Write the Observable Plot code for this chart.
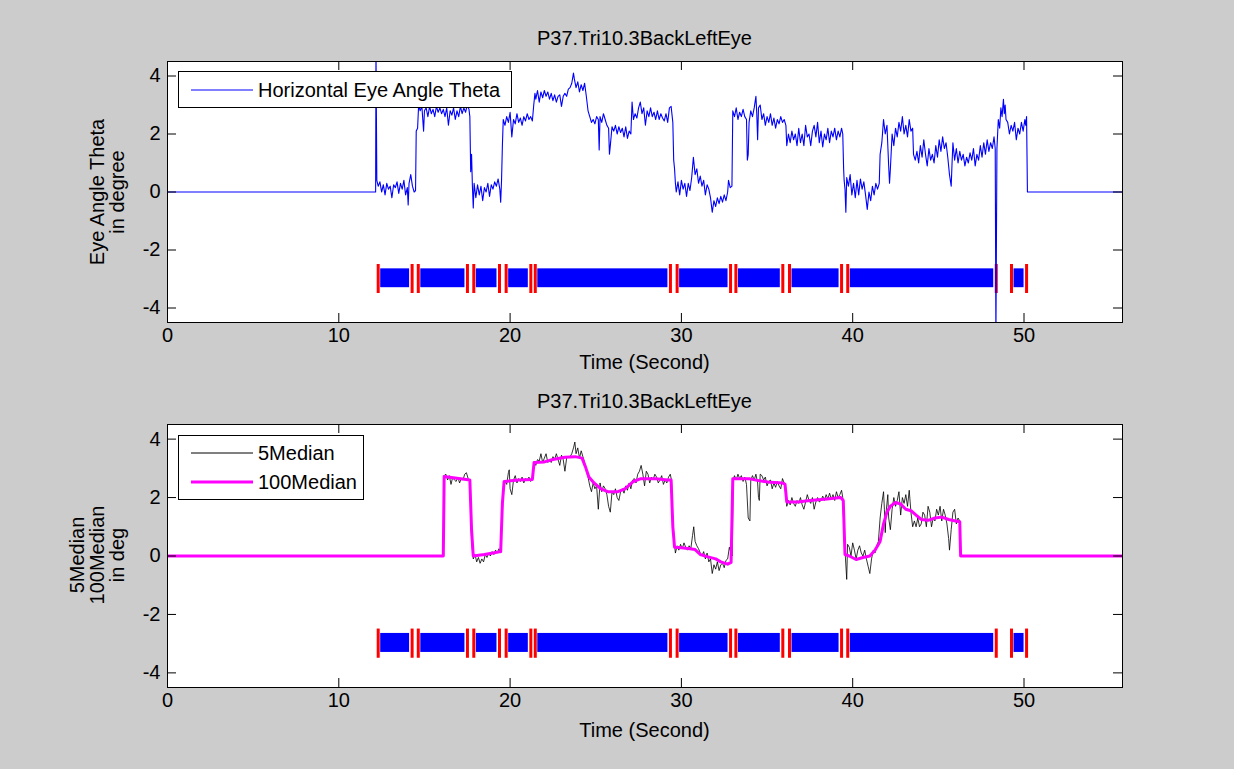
<!DOCTYPE html>
<html><head><meta charset="utf-8">
<script src="https://cdn.jsdelivr.net/npm/d3@7"></script>
<script src="https://cdn.jsdelivr.net/npm/@observablehq/plot@0.6"></script>
<style>
body{margin:0;background:#cccccc;}
#fig{position:relative;width:1234px;height:769px;background:#cccccc;font-family:"Liberation Sans",Arial,sans-serif;color:#000;overflow:hidden}
#fig svg{position:absolute;left:0}
.t{position:absolute;font-size:20px;white-space:nowrap;transform:translate(-50%,-50%);line-height:1}
.yl{position:absolute;font-size:20px;white-space:nowrap;transform:translate(-50%,-50%) rotate(-90deg);line-height:1}
.legend{position:absolute;background:#fff;border:1px solid #000;box-sizing:border-box}
.legend svg{position:absolute;left:0;top:0}
.lt{position:absolute;font-size:20px;white-space:nowrap;transform:translateY(-50%);line-height:1}
</style></head><body><div id="fig"></div>
<script>
// ---------- data ----------
const plotTitle = "P37.Tri10.3BackLeftEye";
const xLabel = "Time (Second)";
const xTicks = [0, 10, 20, 30, 40, 50];
const yTicks = [-4, -2, 0, 2, 4];
const xMax = 55.75;
const yDomain = [-4.5, 4.5];

// Horizontal Eye Angle Theta [time s, degree]
const horizontalTheta = [
[0,0],[12.15,0],[12.17,5],[12.22,0.4],[12.3,0.2],[12.4,0.35],[12.5,0.0],[12.6,0.25],[12.7,-0.1],[12.8,0.3],[12.9,0.1],[13.0,0.2],[13.1,-0.2],[13.2,0.25],[13.3,0.15],[13.4,0.35],[13.5,-0.05],[13.6,0.3],[13.7,0.1],[13.8,0.4],[13.9,-0.1],[14.0,0.15],[14.05,-0.45],[14.1,0.3],[14.2,0.6],[14.3,0.2],[14.4,0.0],[14.48,0.05],[14.52,2.1],[14.6,2.2],[14.66,3.0],[14.75,2.8],[14.85,2.95],[14.95,2.1],[15.0,2.8],[15.1,2.9],[15.2,2.6],[15.3,2.95],[15.4,2.7],[15.5,2.85],[15.6,2.6],[15.7,2.95],[15.8,2.75],[15.9,2.9],[16.0,2.7],[16.1,2.85],[16.2,2.6],[16.3,2.9],[16.4,2.3],[16.5,2.8],[16.6,2.65],[16.7,2.9],[16.8,2.5],[16.9,2.8],[17.0,2.6],[17.1,2.95],[17.2,2.7],[17.3,2.9],[17.4,2.75],[17.5,3.0],[17.6,2.85],[17.65,2.6],[17.7,0.7],[17.75,1.3],[17.8,0.2],[17.85,-0.55],[17.9,0.3],[18.0,-0.2],[18.1,0.25],[18.2,-0.1],[18.3,0.2],[18.4,-0.3],[18.5,0.15],[18.6,0.0],[18.7,0.3],[18.8,-0.15],[18.9,0.25],[19.0,0.1],[19.1,0.35],[19.2,0.2],[19.3,0.45],[19.4,0.1],[19.45,-0.35],[19.5,0.4],[19.55,1.6],[19.6,2.5],[19.7,2.3],[19.8,2.6],[19.9,2.4],[20.0,2.75],[20.1,1.9],[20.2,2.5],[20.3,2.35],[20.4,2.7],[20.5,2.4],[20.6,2.55],[20.7,2.3],[20.8,2.6],[20.9,2.45],[21.0,2.7],[21.1,2.5],[21.2,2.6],[21.3,2.45],[21.38,3.0],[21.45,3.4],[21.5,3.2],[21.6,3.5],[21.7,3.1],[21.8,3.45],[21.9,3.25],[22.0,3.5],[22.1,3.3],[22.2,3.45],[22.3,3.2],[22.4,3.4],[22.5,3.15],[22.6,3.35],[22.7,3.1],[22.8,3.3],[22.9,3.35],[23.0,2.95],[23.1,3.3],[23.2,3.4],[23.3,3.3],[23.4,3.55],[23.5,3.6],[23.6,3.75],[23.7,4.1],[23.75,3.9],[23.85,3.6],[23.95,3.8],[24.05,3.45],[24.15,3.7],[24.25,3.5],[24.35,3.75],[24.45,3.3],[24.55,2.8],[24.65,2.6],[24.75,2.4],[24.85,2.5],[24.95,2.35],[25.05,2.6],[25.15,2.5],[25.2,1.45],[25.25,2.6],[25.35,2.4],[25.45,2.7],[25.55,2.5],[25.65,2.3],[25.75,2.2],[25.8,1.3],[25.85,1.6],[25.95,2.25],[26.05,2.1],[26.15,2.3],[26.25,2.0],[26.35,2.25],[26.45,2.05],[26.55,2.2],[26.65,1.9],[26.75,2.25],[26.85,1.85],[26.95,2.1],[27.05,2.0],[27.12,3.1],[27.2,2.5],[27.3,2.7],[27.4,2.55],[27.5,2.9],[27.6,3.1],[27.7,2.7],[27.8,2.9],[27.9,2.3],[28.0,2.8],[28.1,2.6],[28.2,2.9],[28.3,2.6],[28.4,2.75],[28.5,2.5],[28.6,2.8],[28.7,2.5],[28.8,2.7],[28.9,2.55],[29.0,2.45],[29.1,2.7],[29.2,2.4],[29.3,2.9],[29.4,2.95],[29.5,2.4],[29.55,1.1],[29.6,0.8],[29.65,0.3],[29.7,0.0],[29.8,0.35],[29.9,-0.1],[30.0,0.4],[30.1,0.1],[30.2,0.3],[30.3,-0.15],[30.4,0.3],[30.5,0.05],[30.6,0.5],[30.7,1.2],[30.8,0.6],[30.9,0.8],[31.0,0.3],[31.1,0.55],[31.2,0.2],[31.3,0.4],[31.4,-0.1],[31.5,0.25],[31.6,0.1],[31.7,-0.2],[31.8,-0.7],[31.9,-0.3],[32.0,-0.5],[32.1,-0.2],[32.2,-0.4],[32.3,-0.15],[32.4,-0.35],[32.5,-0.1],[32.6,-0.3],[32.7,0.0],[32.75,0.4],[32.85,0.15],[32.95,0.2],[33.0,2.8],[33.1,2.6],[33.2,2.9],[33.3,2.5],[33.4,2.75],[33.5,2.6],[33.6,2.85],[33.7,2.6],[33.8,2.5],[33.85,1.1],[33.9,1.3],[33.95,2.4],[34.05,2.8],[34.15,2.6],[34.25,2.9],[34.35,3.3],[34.4,2.7],[34.45,1.8],[34.5,2.9],[34.6,3.0],[34.7,2.5],[34.8,2.7],[34.9,2.3],[35.0,2.6],[35.1,2.4],[35.2,2.7],[35.3,2.3],[35.4,2.55],[35.5,2.2],[35.6,2.5],[35.7,2.35],[35.8,2.6],[35.9,2.4],[36.0,2.5],[36.1,2.3],[36.15,1.6],[36.25,2.0],[36.35,1.7],[36.45,2.1],[36.55,1.8],[36.65,2.0],[36.75,1.6],[36.85,2.2],[36.95,1.7],[37.05,2.0],[37.15,1.6],[37.25,2.3],[37.35,1.9],[37.45,2.0],[37.55,1.6],[37.65,2.1],[37.75,2.3],[37.85,1.9],[37.95,2.4],[38.05,1.7],[38.15,2.1],[38.25,1.55],[38.35,2.0],[38.45,1.8],[38.55,2.2],[38.65,1.7],[38.75,2.1],[38.85,1.9],[38.95,2.2],[39.05,1.8],[39.15,2.1],[39.25,1.9],[39.35,2.2],[39.42,2.0],[39.47,0.8],[39.5,0.4],[39.55,0.1],[39.6,-0.7],[39.65,0.5],[39.75,0.2],[39.85,0.6],[39.95,-0.1],[40.05,0.3],[40.15,-0.2],[40.25,0.4],[40.35,-0.1],[40.45,0.45],[40.55,0.1],[40.65,0.35],[40.75,-0.1],[40.85,-0.6],[40.95,0.0],[41.05,-0.3],[41.15,0.2],[41.25,-0.1],[41.35,0.3],[41.45,0.1],[41.55,0.3],[41.6,1.3],[41.7,1.7],[41.8,2.5],[41.9,2.0],[42.0,2.3],[42.1,0.9],[42.15,0.3],[42.2,0.8],[42.3,2.0],[42.4,1.6],[42.5,2.2],[42.6,1.9],[42.7,2.4],[42.8,2.1],[42.9,2.6],[43.0,2.0],[43.1,2.3],[43.2,1.9],[43.3,2.5],[43.4,2.1],[43.5,2.2],[43.55,1.3],[43.65,1.1],[43.75,1.4],[43.85,1.0],[43.95,1.6],[44.05,1.2],[44.15,1.8],[44.25,1.3],[44.35,0.9],[44.45,1.5],[44.55,1.1],[44.65,1.3],[44.75,1.0],[44.85,1.6],[44.95,1.2],[45.05,1.8],[45.15,1.4],[45.25,1.9],[45.35,1.5],[45.45,1.7],[45.55,1.2],[45.65,0.6],[45.75,0.2],[45.8,1.0],[45.85,1.7],[45.95,1.1],[46.05,1.5],[46.15,1.0],[46.25,1.4],[46.35,1.1],[46.45,1.3],[46.55,0.9],[46.65,1.2],[46.75,1.0],[46.85,1.35],[46.95,1.1],[47.05,1.5],[47.15,0.9],[47.25,1.3],[47.35,1.1],[47.45,1.6],[47.55,1.2],[47.65,1.7],[47.75,1.3],[47.85,1.8],[47.95,1.4],[48.05,1.7],[48.15,1.5],[48.25,1.9],[48.32,1.5],[48.36,-5],[48.42,1.5],[48.5,2.5],[48.58,2.2],[48.65,2.9],[48.72,2.6],[48.8,3.2],[48.85,2.7],[48.9,3.0],[48.95,2.5],[49.05,2.4],[49.15,2.0],[49.25,2.3],[49.35,2.1],[49.45,2.4],[49.55,1.8],[49.65,2.2],[49.75,2.0],[49.85,2.4],[49.95,2.1],[50.05,2.5],[50.1,2.3],[50.15,2.6],[50.2,0],[55.75,0]
];

// 5Median [time s, degree]
const median5 = [
[0,0],[16.1,0],[16.15,2.75],[16.25,2.8],[16.35,2.6],[16.45,2.75],[16.55,2.45],[16.65,2.7],[16.75,2.6],[16.85,2.55],[16.95,2.7],[17.05,2.5],[17.15,2.65],[17.25,2.6],[17.35,2.8],[17.45,2.85],[17.55,2.65],[17.65,2.55],[17.75,0.5],[17.85,-0.1],[17.95,0.05],[18.05,-0.2],[18.15,-0.05],[18.25,-0.25],[18.35,-0.1],[18.45,-0.2],[18.55,0.05],[18.65,-0.05],[18.75,0.1],[18.85,0.0],[18.95,0.15],[19.05,0.05],[19.15,0.2],[19.25,0.1],[19.35,0.25],[19.45,0.1],[19.55,1.5],[19.62,2.5],[19.7,2.55],[19.8,2.45],[19.9,2.85],[19.95,2.95],[20.0,2.3],[20.1,2.1],[20.2,2.6],[20.3,2.75],[20.4,2.5],[20.5,2.65],[20.6,2.55],[20.7,2.7],[20.8,2.5],[20.9,2.65],[21.0,2.6],[21.1,2.7],[21.2,2.55],[21.3,2.65],[21.4,3.2],[21.5,3.1],[21.6,3.3],[21.7,3.25],[21.8,3.5],[21.9,3.2],[22.0,3.35],[22.1,3.5],[22.2,3.2],[22.3,3.3],[22.4,3.2],[22.5,3.4],[22.6,3.3],[22.7,3.5],[22.8,3.3],[22.9,3.1],[23.0,3.45],[23.1,3.3],[23.2,2.9],[23.3,3.35],[23.4,3.4],[23.5,3.4],[23.6,3.5],[23.7,3.7],[23.78,3.9],[23.85,3.5],[23.95,3.7],[24.05,3.35],[24.15,3.6],[24.25,3.4],[24.35,3.2],[24.45,2.9],[24.55,2.7],[24.65,2.4],[24.75,2.2],[24.85,2.5],[24.95,2.3],[25.05,2.4],[25.15,1.6],[25.25,2.5],[25.35,2.2],[25.45,2.4],[25.55,2.3],[25.65,2.1],[25.75,1.7],[25.85,1.5],[25.95,2.2],[26.05,2.1],[26.15,2.3],[26.25,2.0],[26.35,1.9],[26.45,2.2],[26.55,2.3],[26.65,2.15],[26.75,2.4],[26.85,2.25],[26.95,2.5],[27.05,2.3],[27.15,2.6],[27.25,2.65],[27.35,2.5],[27.45,2.8],[27.55,2.9],[27.65,3.1],[27.75,2.8],[27.85,2.4],[27.95,2.9],[28.05,2.8],[28.15,2.5],[28.25,2.7],[28.35,2.6],[28.45,2.8],[28.55,2.7],[28.65,2.5],[28.75,2.6],[28.85,2.75],[28.95,2.45],[29.05,2.6],[29.15,2.5],[29.25,2.7],[29.35,2.8],[29.42,2.6],[29.5,1.2],[29.58,0.5],[29.65,0.1],[29.75,0.35],[29.85,0.2],[29.95,0.4],[30.05,0.25],[30.15,0.45],[30.25,0.3],[30.35,0.2],[30.45,0.35],[30.55,0.25],[30.65,0.7],[30.72,1.0],[30.8,0.5],[30.9,0.35],[31.0,0.25],[31.1,0.1],[31.2,0.0],[31.3,0.15],[31.4,-0.1],[31.5,0.1],[31.6,-0.2],[31.7,-0.1],[31.8,-0.6],[31.9,-0.3],[32.0,-0.45],[32.1,-0.2],[32.2,-0.5],[32.3,-0.3],[32.4,-0.25],[32.5,-0.4],[32.6,-0.15],[32.7,-0.1],[32.8,0.3],[32.9,0.1],[32.97,0.0],[33.02,2.6],[33.1,2.75],[33.2,2.6],[33.3,2.8],[33.4,2.65],[33.5,2.75],[33.6,2.55],[33.7,2.7],[33.8,2.45],[33.9,1.3],[34.0,1.2],[34.05,2.6],[34.15,2.75],[34.25,2.6],[34.35,2.8],[34.45,2.5],[34.5,2.0],[34.55,1.9],[34.6,2.8],[34.7,2.75],[34.8,2.6],[34.9,2.7],[35.0,2.4],[35.1,2.55],[35.2,2.6],[35.3,2.3],[35.4,2.5],[35.5,2.35],[35.6,2.55],[35.7,2.4],[35.8,2.3],[35.9,2.65],[36.0,2.5],[36.1,2.2],[36.15,1.7],[36.25,1.9],[36.35,1.75],[36.45,2.0],[36.55,1.8],[36.65,1.7],[36.75,1.9],[36.85,1.8],[36.95,2.0],[37.05,1.75],[37.15,1.6],[37.25,1.85],[37.35,2.1],[37.45,1.9],[37.55,1.8],[37.65,2.0],[37.75,1.6],[37.85,1.85],[37.95,2.0],[38.05,1.85],[38.15,1.9],[38.25,2.05],[38.35,1.9],[38.45,2.1],[38.55,1.95],[38.65,2.15],[38.75,1.95],[38.85,2.1],[38.95,1.9],[39.05,2.2],[39.15,2.0],[39.25,2.1],[39.35,2.25],[39.42,2.0],[39.5,0.7],[39.58,-0.1],[39.65,-0.8],[39.7,0.4],[39.8,0.3],[39.9,0.0],[40.0,0.45],[40.1,0.2],[40.2,-0.1],[40.3,0.2],[40.4,0.35],[40.5,0.1],[40.6,0.0],[40.7,0.2],[40.8,-0.1],[40.9,-0.35],[41.0,-0.6],[41.1,-0.1],[41.2,0.2],[41.3,0.1],[41.4,0.35],[41.5,0.5],[41.6,1.3],[41.7,1.8],[41.8,2.2],[41.85,1.6],[41.9,0.8],[41.95,1.5],[42.05,2.1],[42.1,1.3],[42.2,0.9],[42.3,1.6],[42.4,2.0],[42.5,1.7],[42.6,1.9],[42.7,2.2],[42.8,1.4],[42.9,2.0],[43.0,1.8],[43.1,2.1],[43.2,1.7],[43.3,2.25],[43.4,1.5],[43.5,1.0],[43.6,1.2],[43.7,1.0],[43.8,1.3],[43.9,1.0],[44.0,1.1],[44.1,1.5],[44.2,1.4],[44.3,1.0],[44.4,1.7],[44.5,1.5],[44.6,1.0],[44.7,1.3],[44.8,1.2],[44.9,1.6],[45.0,1.4],[45.1,1.7],[45.2,1.2],[45.3,1.6],[45.4,1.4],[45.5,1.1],[45.6,0.6],[45.65,0.2],[45.75,0.9],[45.85,1.5],[45.95,1.6],[46.05,1.1],[46.15,1.3],[46.25,1.2],[46.3,0],[55.75,0]
];

// 100Median [time s, degree]
const median100 = [
[0,0],[16.1,0],[16.15,2.72],[17.0,2.65],[17.65,2.6],[17.75,0.9],[17.85,0.0],[18.5,0.05],[19.0,0.1],[19.45,0.15],[19.55,1.8],[19.65,2.55],[20.5,2.6],[21.3,2.62],[21.4,3.2],[22.0,3.22],[22.5,3.3],[23.2,3.38],[23.8,3.4],[24.2,3.35],[24.4,3.05],[24.6,2.7],[24.9,2.5],[25.3,2.3],[25.7,2.2],[26.3,2.2],[26.7,2.3],[27.2,2.55],[27.6,2.64],[28.5,2.64],[29.2,2.6],[29.4,2.6],[29.5,1.0],[29.6,0.3],[30.0,0.28],[30.5,0.25],[30.8,0.22],[31.1,0.05],[31.5,-0.02],[32.0,-0.1],[32.3,-0.2],[32.7,-0.28],[32.9,-0.22],[33.0,2.64],[34.0,2.64],[34.5,2.58],[35.2,2.52],[35.9,2.5],[36.05,2.45],[36.15,1.85],[36.8,1.85],[37.5,1.9],[38.5,1.95],[39.3,2.0],[39.45,1.9],[39.55,0.05],[39.8,0.0],[40.2,-0.12],[40.6,-0.05],[41.0,0.0],[41.3,0.2],[41.6,0.5],[41.8,1.1],[42.0,1.5],[42.2,1.7],[42.5,1.83],[42.8,1.78],[43.1,1.6],[43.4,1.55],[43.7,1.4],[44.0,1.25],[44.4,1.22],[44.8,1.3],[45.2,1.33],[45.6,1.25],[46.0,1.2],[46.25,1.17],[46.3,0],[55.75,0]
];

// segment start / end times (red markers at both ends, blue bar between)
const segStart = [12.30, 14.64, 17.88, 19.77, 21.47, 29.75, 33.18, 36.31, 39.71, 49.27];
const segEnd   = [14.28, 17.51, 19.38, 21.21, 29.36, 32.87, 35.92, 39.35, 48.38, 50.15];

const legendTop = ["Horizontal Eye Angle Theta"];
const legendBottom = ["5Median", "100Median"];
const yLabelTop = ["Eye Angle Theta", "in degree"];
const yLabelBottom = ["5Median", "100Median", "in deg"];

// ---------- build ----------
const toObj = a => a.map(([t, v]) => ({t, v}));
const segments = segStart.map((s, i) => ({s, e: segEnd[i]}));
const markers = segStart.concat(segEnd);

const W = 1234, ML = 167, MR = 112;
const innerW = W - ML - MR;
const FONT = "Liberation Sans, Arial, Helvetica, sans-serif";
const fmt = d => (d < 0 ? "-" + Math.abs(d) : String(d));

function subplot(top, height, mt, mb, dataMarks) {
  const innerH = height - mt - mb;
  const tl = 9;
  const svg = Plot.plot({
    width: W, height,
    marginLeft: ML, marginRight: MR, marginTop: mt, marginBottom: mb,
    style: {background: "transparent", fontFamily: FONT, fontSize: "20px", color: "black", overflow: "visible"},
    x: {domain: [0, xMax]},
    y: {domain: yDomain},
    marks: [
      Plot.frame({fill: "white", stroke: null}),
      Plot.rect(segments, {x1: "s", x2: "e", y1: -2.65, y2: -3.3, fill: "#0000ff", insetLeft: 2.5, insetRight: 2.5}),
      Plot.ruleX(markers, {x: d => d, y1: -2.5, y2: -3.5, stroke: "#ff0000", strokeWidth: 3}),
      ...dataMarks,
      Plot.ruleX(xTicks, {x: d => d, insetTop: innerH - tl, stroke: "black"}),
      Plot.ruleX(xTicks, {x: d => d, insetBottom: innerH - tl, stroke: "black"}),
      Plot.ruleY(yTicks, {y: d => d, insetRight: innerW - tl, stroke: "black"}),
      Plot.ruleY(yTicks, {y: d => d, insetLeft: innerW - tl, stroke: "black"}),
      Plot.axisX({ticks: xTicks, tickSize: 0, tickPadding: 5, label: null, tickFormat: fmt, fontSize: 20}),
      Plot.axisY({ticks: yTicks, tickSize: 0, tickPadding: 7, label: null, tickFormat: fmt, fontSize: 20}),
      Plot.frame({stroke: "black", strokeWidth: 1})
    ]
  });
  svg.style.top = top + "px";
  return svg;
}

const fig = document.getElementById("fig");

fig.appendChild(subplot(0, 384, 61, 62, [
  Plot.line(toObj(horizontalTheta), {x: "t", y: "v", stroke: "#0000ff", strokeWidth: 1.1, clip: true})
]));
fig.appendChild(subplot(384, 385, 40, 82, [
  Plot.line(toObj(median5), {x: "t", y: "v", stroke: "black", strokeWidth: 0.8, clip: true}),
  Plot.line(toObj(median100), {x: "t", y: "v", stroke: "#ff00ff", strokeWidth: 3, clip: true})
]));

function addText(cls, txt, x, y) {
  const d = document.createElement("div");
  d.className = cls; d.textContent = txt;
  d.style.left = x + "px"; d.style.top = y + "px";
  fig.appendChild(d);
}
const cx = ML + innerW / 2;
addText("t", plotTitle, cx, 38);
addText("t", xLabel, cx, 362);
addText("t", plotTitle, cx, 401);
addText("t", xLabel, cx, 730);
yLabelTop.forEach((s, i) => addText("yl", s, 97 + i * 20, 192));
yLabelBottom.forEach((s, i) => addText("yl", s, 77 + i * 20, 555));

function addLegend(x, y, w, h, items) {
  const box = document.createElement("div");
  box.className = "legend";
  Object.assign(box.style, {left: x + "px", top: y + "px", width: w + "px", height: h + "px"});
  const svg = d3.create("svg").attr("width", w).attr("height", h);
  items.forEach((it, i) => {
    svg.append("line").attr("x1", 12).attr("x2", 74).attr("y1", it.y).attr("y2", it.y)
      .attr("stroke", it.color).attr("stroke-width", it.sw);
    const t = document.createElement("div");
    t.className = "lt"; t.textContent = it.label;
    t.style.left = "79px"; t.style.top = it.y + "px";
    box.appendChild(t);
  });
  box.appendChild(svg.node());
  fig.appendChild(box);
}
addLegend(178, 71, 334, 37, [{label: legendTop[0], color: "#0000ff", sw: 1, y: 18}]);
addLegend(178, 435, 186, 65, [
  {label: legendBottom[0], color: "black", sw: 1, y: 17},
  {label: legendBottom[1], color: "#ff00ff", sw: 3, y: 46}
]);
</script></body></html>
